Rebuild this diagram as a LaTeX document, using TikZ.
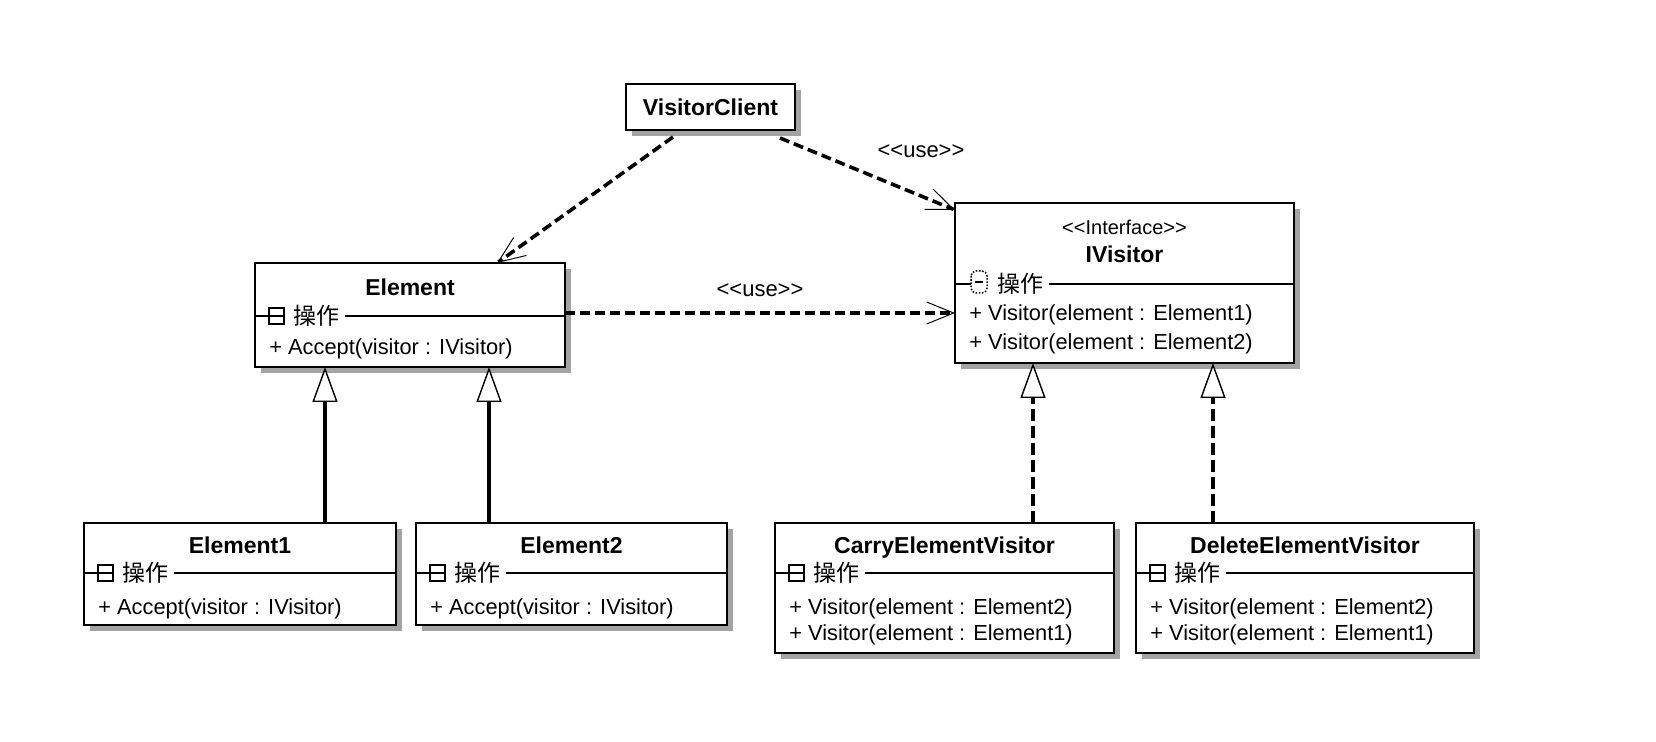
\documentclass[tikz,border=0pt]{standalone}
\usepackage{fontspec}
\setmainfont{Liberation Sans}
\newfontfamily\cjkfont{Noto Sans CJK SC}
\usetikzlibrary{arrows.meta,fit,calc}

% stereotype text such as <<use>>, kept free of guillemet ligatures
\newcommand\stereotype[1]{<\kern0pt<#1>\kern0pt>}

\tikzset{
  x=0.5pt, y=-0.5pt,
  classbox/.style={draw, line width=0.9pt, fill=white, inner sep=0pt, outer sep=0pt},
  shadowbox/.style={fill=black!36},
  ctitle/.style={font=\bfseries\fontsize{11.5}{13}\selectfont, inner sep=0pt,
    text height=10.2pt, text depth=2pt},
  stereo/.style={font=\fontsize{10}{12}\selectfont, inner sep=0pt,
    text height=9.2pt, text depth=2pt},
  optext/.style={font=\fontsize{10.9}{13}\selectfont, inner sep=0pt, anchor=west,
    text height=9.8pt, text depth=2pt},
  cjklabel/.style={font=\cjkfont\fontsize{11.5}{13}\selectfont, inner sep=0pt, anchor=west,
    text height=10.8pt, text depth=2pt},
  sepline/.style={line width=0.9pt},
  iconline/.style={line width=0.75pt},
  uselabel/.style={font=\fontsize{11}{13}\selectfont, inner sep=0pt},
  dep/.style={line width=1.8pt, dash pattern=on 5pt off 2.5pt,
    -{Straight Barb[length=13.5pt,width=11pt,line width=0.5pt]}},
  gen/.style={line width=1.8pt,
    -{Triangle[length=17.5pt,width=12.5pt,line width=0.7pt,fill=white]}},
  real/.style={gen, dash pattern=on 6pt off 2.5pt},
}

% class box with its drop shadow: name, left, top, right, bottom
\newcommand\umlclass[5]{%
  \fill[shadowbox] (#2+6,#3+6) rectangle (#4+6,#5+6);
  \node[classbox, fit={(#2,#3) (#4,#5)}] (#1) {};
}

% operations compartment header: class node, left x, divider y
\newcommand\opsrow[3]{%
  \node[cjklabel] (#1-op) at (#2+38,#3) {操作};
  \draw[sepline] (#2,#3) -- (#2+14,#3);
  \draw[sepline] ([xshift=2.5pt]#1-op.east) -- (#1.east |- #1-op.east);
  \draw[iconline] (#2+14,#3-8) rectangle (#2+29,#3+8);
  \draw[iconline] (#2+14,#3) -- (#2+29,#3);
}

% same header with the dotted (collapsed) icon
\newcommand\opsrowdotted[3]{%
  \node[cjklabel] (#1-op) at (#2+42,#3) {操作};
  \draw[sepline] (#2,#3) -- (#2+16,#3);
  \draw[sepline] ([xshift=2.5pt]#1-op.east) -- (#1.east |- #1-op.east);
  \draw[iconline, dash pattern=on 0.8pt off 0.8pt, rounded corners=2.5pt]
    (#2+16,#3-13) rectangle (#2+32,#3+9);
  \draw[iconline] (#2+20,#3-2) -- (#2+28,#3-2);
}

\begin{document}
\begin{tikzpicture}
\fill[white] (0,0) rectangle (1656,742);
\useasboundingbox (0,0) rectangle (1656,742);

% VisitorClient
\umlclass{vc}{626}{84}{795}{130}
\node[ctitle] (vc-name) at (710.5,107) {VisitorClient};

% Element
\umlclass{el}{255}{263}{565}{367}
\node[ctitle] (el-name) at (410,287) {Element};
\opsrow{el}{255}{316}
\node[optext] (el-m1) at (269,347) {+ Accept(visitor : IVisitor)};

% IVisitor
\umlclass{iv}{955}{203}{1294}{363}
\node[stereo] (iv-st) at (1124.5,227) {\stereotype{Interface}};
\node[ctitle] (iv-name) at (1124.5,254) {IVisitor};
\opsrowdotted{iv}{955}{284}
\node[optext] (iv-m1) at (969,313) {+ Visitor(element : Element1)};
\node[optext] (iv-m2) at (969,342) {+ Visitor(element : Element2)};

% Element1
\umlclass{ea}{84}{523}{396}{625}
\node[ctitle] (ea-name) at (240,545) {Element1};
\opsrow{ea}{84}{573}
\node[optext] (ea-m1) at (98,607) {+ Accept(visitor : IVisitor)};

% Element2
\umlclass{eb}{416}{523}{727}{625}
\node[ctitle] (eb-name) at (571.5,545) {Element2};
\opsrow{eb}{416}{573}
\node[optext] (eb-m1) at (430,607) {+ Accept(visitor : IVisitor)};

% CarryElementVisitor
\umlclass{cv}{775}{523}{1114}{653}
\node[ctitle] (cv-name) at (944.5,545) {CarryElementVisitor};
\opsrow{cv}{775}{573}
\node[optext] (cv-m1) at (789,607) {+ Visitor(element : Element2)};
\node[optext] (cv-m2) at (789,633) {+ Visitor(element : Element1)};

% DeleteElementVisitor
\umlclass{dv}{1136}{523}{1474}{653}
\node[ctitle] (dv-name) at (1305,545) {DeleteElementVisitor};
\opsrow{dv}{1136}{573}
\node[optext] (dv-m1) at (1150,607) {+ Visitor(element : Element2)};
\node[optext] (dv-m2) at (1150,633) {+ Visitor(element : Element1)};

% dependencies
\draw[dep] ([xshift=-18.75pt,yshift=-3.5pt]vc.south) -- ([xshift=43.5pt]el.north);
\draw[dep] ([xshift=34.75pt,yshift=-4pt]vc.south) -- ([yshift=-3.5pt]iv.north west);
\draw[dep] ([yshift=1pt]el.east) -- ([yshift=-15pt]iv.west);
\node[uselabel] (use-top) at (921,151) {\stereotype{use}};
\node[uselabel] (use-mid) at (760,290) {\stereotype{use}};

% generalizations
\draw[gen] ([xshift=42.5pt]ea.north) -- ([xshift=-42.5pt]el.south);
\draw[gen] ([xshift=-41.25pt]eb.north) -- ([xshift=39.5pt]el.south);

% realizations
\draw[real] ([xshift=44.25pt]cv.north) -- ([xshift=-45.75pt]iv.south);
\draw[real] ([xshift=-46pt]dv.north) -- ([xshift=44.25pt]iv.south);
\end{tikzpicture}
\end{document}
